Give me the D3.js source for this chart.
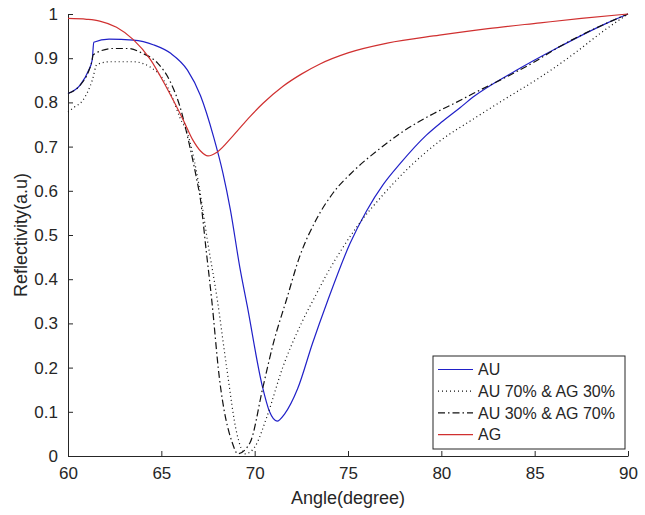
<!DOCTYPE html>
<html lang="en">
<head>
<meta charset="UTF-8">
<title>Reflectivity vs Angle</title>
<script src="https://d3js.org/d3.v7.min.js"></script>
<style>
  body { margin: 0; background: #fff; }
  text { font-family: "Liberation Sans", Arial, sans-serif; fill: #262626; }
</style>
</head>
<body>
<script>
    // Data (angle in degrees, reflectivity a.u.)
    var auAngle = [60, 60.65, 61.1, 61.3, 61.38, 62.2, 63.5, 64.6, 65.5, 66.4, 67.1, 67.8, 68.3, 68.7, 69.2, 69.6,
        70.4, 70.8, 71.2, 71.6, 72.3, 73.1, 73.9, 75.1, 76.0, 76.9, 77.8, 79.2, 80.0, 81.0, 81.7, 84.0, 86.2, 88.9, 90];
    var auValue = [0.820, 0.839, 0.872, 0.897, 0.936, 0.943, 0.941, 0.930, 0.911, 0.873, 0.815, 0.722, 0.640, 0.557, 0.428, 0.340,
        0.160, 0.100, 0.079, 0.095, 0.152, 0.255, 0.350, 0.480, 0.555, 0.615, 0.662, 0.726, 0.755, 0.788, 0.812, 0.872, 0.923, 0.980, 1.0];

    var mix73Angle = [60, 60.3, 60.8, 61.3, 61.55, 62.25, 63.5, 64.4, 65.1, 65.6, 66.0, 66.4, 66.9, 67.5, 68.0, 68.5, 69.05, 69.5,
        70.0, 70.65, 71.5, 72.5, 73.2, 73.9, 74.7, 75.5, 76.9, 78.2, 79.9, 81.7, 83.5, 85.3, 87.1, 88.7, 90];
    var mix73Value = [0.778, 0.788, 0.805, 0.850, 0.886, 0.892, 0.892, 0.880, 0.852, 0.810, 0.765, 0.730, 0.640, 0.480, 0.353, 0.200, 0.050, 0.005,
        0.020, 0.088, 0.200, 0.300, 0.358, 0.414, 0.470, 0.520, 0.592, 0.650, 0.712, 0.762, 0.810, 0.857, 0.910, 0.962, 1.0];

    var mix37Angle = [60, 60.65, 61.1, 61.28, 61.35, 62.4, 63.2, 64.0, 64.8, 65.5, 66.0, 66.5, 66.9, 67.1, 67.4, 67.7, 68.1, 68.8, 69.1,
        69.75, 70.45, 71.0, 71.7, 72.4, 73.3, 74.2, 75.3, 76.6, 77.8, 79.6, 80.8, 81.7, 83.5, 85.0, 86.2, 88.9, 90];
    var mix37Value = [0.820, 0.839, 0.870, 0.893, 0.908, 0.922, 0.922, 0.911, 0.889, 0.845, 0.790, 0.705, 0.625, 0.579, 0.466, 0.353, 0.180, 0.030, 0.005,
        0.030, 0.157, 0.255, 0.353, 0.450, 0.535, 0.595, 0.645, 0.692, 0.730, 0.775, 0.800, 0.820, 0.858, 0.892, 0.923, 0.980, 1.0];

    var agAngle = [60, 61, 61.7, 62.6, 63.5, 64.4, 65.3, 66.2, 66.7, 67.1, 67.5, 68.0, 68.85, 69.75, 70.45, 71.5, 72.5, 73.5,
        75, 77.1, 79.9, 82.5, 85.3, 87.5, 90];
    var agValue = [0.990, 0.988, 0.984, 0.970, 0.942, 0.898, 0.832, 0.758, 0.714, 0.690, 0.679, 0.688, 0.725, 0.768, 0.798, 0.836, 0.864, 0.887,
        0.912, 0.934, 0.952, 0.967, 0.980, 0.990, 1.0];

    var seriesNames = ["AU", "AU 70% & AG 30%", "AU 30% & AG 70%", "AG"];
    var xTicks = [60, 65, 70, 75, 80, 85, 90];
    var yTicks = [0, 0.1, 0.2, 0.3, 0.4, 0.5, 0.6, 0.7, 0.8, 0.9, 1];

    var series = [
        { name: seriesNames[0], x: auAngle, y: auValue, color: "#2020c8", dash: null },
        { name: seriesNames[1], x: mix73Angle, y: mix73Value, color: "#111", dash: "1,3" },
        { name: seriesNames[2], x: mix37Angle, y: mix37Value, color: "#111", dash: "7,3,1.5,3" },
        { name: seriesNames[3], x: agAngle, y: agValue, color: "#d03030", dash: null }
    ];

    var width = 645, height = 515;
    var plotLeft = 68, plotRight = 628, plotTop = 14, plotBottom = 456;

    var svg = d3.select("body").append("svg")
        .attr("width", width)
        .attr("height", height);

    var x = d3.scaleLinear().domain([60, 90]).range([plotLeft, plotRight]);
    var y = d3.scaleLinear().domain([0, 1]).range([plotBottom, plotTop]);

    // Axes (MATLAB style: ticks pointing inward, no box)
    var xAxis = svg.append("g")
        .attr("transform", "translate(0," + plotBottom + ")")
        .call(d3.axisBottom(x).tickValues(xTicks).tickSizeInner(-5).tickSizeOuter(0).tickPadding(11));
    var yAxis = svg.append("g")
        .attr("transform", "translate(" + plotLeft + ",0)")
        .call(d3.axisLeft(y).tickValues(yTicks).tickSizeInner(-5).tickSizeOuter(0).tickPadding(10)
            .tickFormat(function(d) { return d3.format("")(+d.toFixed(1)); }));

    [xAxis, yAxis].forEach(function(a) {
        a.select(".domain").attr("stroke", "#262626").attr("stroke-width", 1);
        a.selectAll(".tick line").attr("stroke", "#262626");
        a.selectAll(".tick text").style("font-size", "17px").attr("fill", "#333");
    });

    svg.append("text")
        .attr("x", (plotLeft + plotRight) / 2)
        .attr("y", 504)
        .attr("text-anchor", "middle")
        .style("font-size", "18px")
        .text("Angle(degree)");

    svg.append("text")
        .attr("transform", "translate(27," + (plotTop + plotBottom) / 2 + ")rotate(-90)")
        .attr("text-anchor", "middle")
        .style("font-size", "18px")
        .text("Reflectivity(a.u)");

    // Curves
    var line = d3.line()
        .x(function(d) { return x(d[0]); })
        .y(function(d) { return y(d[1]); })
        .curve(d3.curveMonotoneX);

    svg.append("g").selectAll("path")
        .data(series)
        .enter().append("path")
        .attr("d", function(s) { return line(d3.zip(s.x, s.y)); })
        .attr("fill", "none")
        .attr("stroke", function(s) { return s.color; })
        .attr("stroke-width", 1.2)
        .attr("stroke-dasharray", function(s) { return s.dash; });

    // Legend
    var legend = svg.append("g").attr("transform", "translate(433,356)");
    legend.append("rect")
        .attr("width", 192)
        .attr("height", 93)
        .attr("fill", "#fff")
        .attr("stroke", "#262626")
        .attr("stroke-width", 1);

    var item = legend.selectAll(".item")
        .data(series)
        .enter().append("g")
        .attr("transform", function(d, i) { return "translate(0," + (13.5 + i * 21.7) + ")"; });
    item.append("line")
        .attr("x1", 5).attr("x2", 40)
        .attr("stroke", function(s) { return s.color; })
        .attr("stroke-width", 1.2)
        .attr("stroke-dasharray", function(s) { return s.dash; });
    item.append("text")
        .attr("x", 45)
        .attr("dy", "0.35em")
        .style("font-size", "16px")
        .text(function(s) { return s.name; });
</script>
</body>
</html>
